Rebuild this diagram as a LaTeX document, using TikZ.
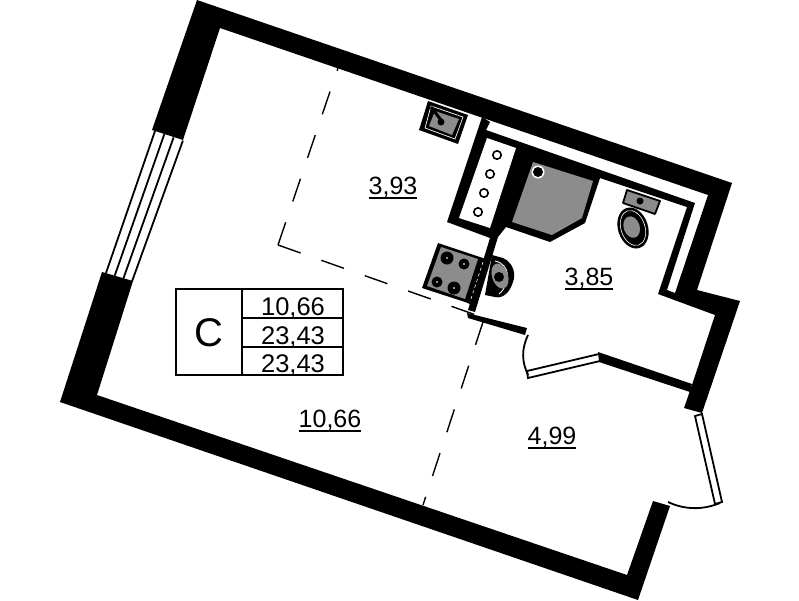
\documentclass[tikz,border=0pt]{standalone}
\usepackage{fontspec}
\setmainfont{Liberation Sans}
\newsavebox\areabox
\newcommand{\areanum}[1]{\sbox\areabox{#1}\rlap{\rule[-4.5pt]{\wd\areabox}{1.3pt}}\usebox\areabox}
\tikzset{
  wall/.style={fill=black,draw=none},
  hole/.style={fill=white,draw=none},
  fixture/.style={fill=black!45,draw=black,line width=2pt,line join=round},
  zoneline/.style={line width=1.4pt,dash pattern=on 24pt off 22pt},
  frame/.style={line width=1.8pt},
  arealabel/.style={font=\fontsize{25}{25}\selectfont,inner sep=0pt,anchor=base},
  tablelabel/.style={font=\fontsize{25.5}{26}\selectfont,inner sep=0pt,anchor=base}
}
\begin{document}
\begin{tikzpicture}[x=1pt,y=-1pt]
\useasboundingbox (0,0) rectangle (799,600);

% outer walls
\fill[wall] (197,0) -- (732,183) -- (697,290) -- (740,301) -- (702,413) -- (684,408)
  -- (692,385) -- (715,315) -- (658,294) -- (667,290) -- (675,293) -- (708,195) -- (220,28)
  -- (183,140) -- (152,130) -- cycle;
\fill[wall] (102,272) -- (133,281) -- (97,395) -- (627,575) -- (653,501) -- (670,506)
  -- (638,600) -- (60,402) -- cycle;

% window on the left
\foreach \i in {0,1,2,3}
  \draw[line width=1.8pt] ({155+\i*9.3},{131+\i*3.2}) -- ({106+\i*8.7},{273+\i*2.7});

% bathroom walls and shaft
\fill[wall] (482,117) -- (447,222) -- (490,238) -- (468,310) -- (475,312) -- (498,237)
  -- (506,227) -- (550,242) -- (585,223) -- (600,178) -- (687,207) -- (658,294) -- (667,290)
  -- (695,203) -- (486,130) -- (490,122) -- cycle;
\fill[hole] (487,138) -- (516,148) -- (490,228) -- (459,218) -- cycle;
\foreach \cx/\cy in {497/155,490/174,484/193,478/212}
  \draw[line width=1.6pt,fill=white] (\cx,\cy) circle (4.2);
\fill[fixture,draw=none] (533,162) -- (593,181) -- (582,218) -- (552,235) -- (512,222) -- cycle;
\fill[white] (538,172) circle (6.5);
\fill (538,172) circle (5);

% partition, balcony door and walls
\fill[wall] (467,313) -- (527,328) -- (525,335) -- (468,318) -- cycle;
\fill[wall] (598,352) -- (692,384) -- (690,392) -- (599,362) -- cycle;
\draw[frame,fill=white] (527,371) -- (599,354) -- (600,361) -- (528,378) -- cycle;
\draw[line width=1.8pt] (528,335) .. controls (521,350) and (522,362) .. (528,375);

% balcony glazing and door
\draw[frame,fill=white] (695,416) -- (702,414) -- (722,502) -- (715,504) -- cycle;
\draw[line width=1.8pt] (668,502) .. controls (685,510) and (703,510) .. (720,503);

% kitchen sink
\fill[wall] (428,101) -- (468,115) -- (458,144) -- (419,130) -- cycle;
\draw[white,line width=0.7pt] (431,106) -- (463,117) -- (455,139) -- (425,128) -- cycle;
\fill[black!45] (435,111) -- (459,119) -- (452,135) -- (429,126) -- cycle;
\draw[line width=3pt] (431,107) -- (441,120);
\fill (441,122) circle (3.5);

% hob
\fill (492,255) -- (503,258) .. controls (514,263) and (516,275) .. (513,282)
  .. controls (510,292) and (503,299) .. (495,297) -- (485,295) -- cycle;
\draw[white,line width=0.9pt] (495,261) .. controls (511,264) and (511,284) .. (499,294);
\fill[black!45,rotate around={18:(500,276)}] (500,276) ellipse (8 and 13);
\fill (499,277) circle (5);
\fill[wall] (438,243) -- (486,259) -- (472,306) -- (468,303) -- (422,288) -- cycle;
\fill[black!45] (441,247) -- (478,259) -- (465,299) -- (427,286) -- cycle;
\draw[white,line width=0.6pt,dashed] (483,262) -- (470,302);
\foreach \cx/\cy/\r in {447/258/6.5,464/264/5.5,437/282/5.5,454/288/6.5}{
  \fill (\cx,\cy) circle (\r);
  \fill[black!25] (\cx,\cy) circle (1.2);
}

% toilet
\fill[rotate around={18:(633,228)}] (633,228) ellipse (15 and 21);
\draw[white,line width=0.6pt,rotate around={18:(633,228)}] (633,228) ellipse (12 and 18);
\fill[black!45,rotate around={18:(632,228)}] (632,227) ellipse (8 and 11);
\draw[fixture,line width=1.8pt] (627,190) -- (660,201) -- (655,214) -- (623,203) -- cycle;
\fill (640,201) circle (3.5);

% zone lines
\coordinate (zonecorner) at (278,245);
\draw[zoneline] (zonecorner) -- (338,68);
\draw[zoneline] (zonecorner) -- (476,315);
\draw[zoneline] (483,322) -- (423,505);

% areas
\node[arealabel] (kitchen) at (393,194) {\areanum{3,93}};
\node[arealabel] (bath) at (589,285) {\areanum{3,85}};
\node[arealabel] (room) at (330,427) {\areanum{10,66}};
\node[arealabel] (balcony) at (552,444) {\areanum{4,99}};

% table
\draw[line width=2.2pt] (176,289) rectangle (343,375);
\draw[line width=2.2pt] (242,289) -- (242,375);
\draw[line width=2.2pt] (242,318) -- (343,318);
\draw[line width=2.2pt] (242,347) -- (343,347);
\node[font=\fontsize{40}{40}\selectfont,inner sep=0pt] (type) at (209,333) {C};
\node[tablelabel] (liveA) at (293,315) {10,66};
\node[tablelabel] (totalA) at (293,344) {23,43};
\node[tablelabel] (totalB) at (293,372) {23,43};
\end{tikzpicture}
\end{document}
